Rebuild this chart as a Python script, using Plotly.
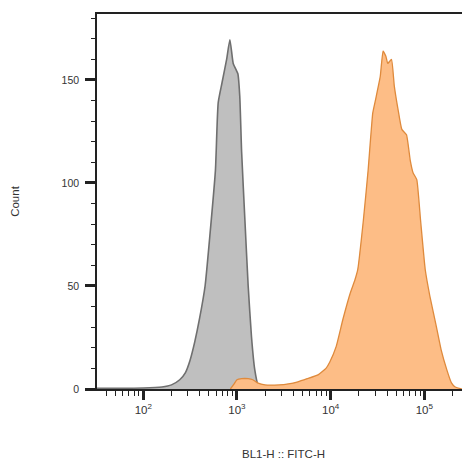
import plotly.graph_objects as go

# Fluorescence intensity (BL1-H :: FITC-H) and event counts
gray_intensity = [32, 100, 158, 200, 245, 282, 316, 355, 398, 457, 513, 589, 631, 692,
                  776, 841, 912, 977, 1023, 1072, 1122, 1216, 1318, 1429, 1549, 1679,
                  1862, 2512]
gray_count = [0.3, 0.5, 1, 2, 4.5, 8, 14, 23, 34, 50, 74, 106, 139, 148.5,
              160, 169.5, 158, 155, 153, 142, 115, 82, 50, 25.5, 9.4, 2,
              0.5, 0]

orange_intensity = [851, 933, 1000, 1122, 1318, 1479, 1660, 1995, 2818, 3548, 4467,
                    5623, 7413, 8913, 9772, 11482, 13490, 16218, 18197, 19498, 22387,
                    25119, 28184, 30200, 33884, 36308, 38905, 40738, 44668, 47863,
                    52481, 57544, 64565, 70795, 75858, 83176, 91201, 102329, 114815,
                    134896, 151356, 173780, 194984, 213796, 251189]
orange_count = [0, 2.5, 4.5, 5, 5, 4.5, 3, 2, 2, 2.5, 3.5,
                5, 7, 10, 13, 20.7, 33.6, 46.6, 53, 58, 82,
                106, 134, 140.5, 151.7, 164, 161.5, 158, 160, 147,
                135.6, 126, 123.4, 111, 105, 101.6, 82, 58, 45,
                30, 19, 9.4, 3, 1, 0]

major_ticks = [100, 1000, 10000, 100000]
major_labels = ["10<sup>2</sup>", "10<sup>3</sup>", "10<sup>4</sup>", "10<sup>5</sup>"]
minor_x_ticks = [40, 50, 60, 70, 80, 90,
                 200, 300, 400, 500, 600, 700, 800, 900,
                 2000, 3000, 4000, 5000, 6000, 7000, 8000, 9000,
                 20000, 30000, 40000, 50000, 60000, 70000, 80000, 90000,
                 200000, 300000]
y_ticks = [0, 50, 100, 150]

x_title = "BL1-H :: FITC-H"
y_title = "Count"

fig = go.Figure()
fig.add_trace(go.Scatter(
    x=gray_intensity, y=gray_count, mode="lines", fill="tozeroy",
    line=dict(color="#6f6f6f", width=1.6, shape="spline", smoothing=0.5),
    fillcolor="#bfbfbf", showlegend=False, hoverinfo="skip"))
fig.add_trace(go.Scatter(
    x=orange_intensity, y=orange_count, mode="lines", fill="tozeroy",
    line=dict(color="#df8a3c", width=1.3, shape="spline", smoothing=0.4),
    fillcolor="#fdbd86", showlegend=False, hoverinfo="skip"))

fam = "Liberation Sans, Arial, sans-serif"

fig.update_layout(
    width=462, height=452,
    margin=dict(l=89, r=0, t=6, b=71),
    paper_bgcolor="white", plot_bgcolor="white",
    font=dict(family=fam, size=11, color="#333333"),
    xaxis=dict(
        type="log", range=[1.506, 5.488],
        showline=True, linecolor="#222222", linewidth=1.5, mirror=True,
        showgrid=False, zeroline=False,
        tickmode="array", tickvals=major_ticks, ticktext=major_labels,
        ticks="outside", ticklen=9, tickwidth=2.5, tickcolor="#222222",
        tickfont=dict(family=fam, size=11.5, color="#333333"),
        minor=dict(tickmode="array", tickvals=minor_x_ticks, ticks="outside",
                   ticklen=5, tickwidth=1.2, tickcolor="#222222", showgrid=False),
        title=dict(text=x_title, font=dict(size=11.5, color="#333333"), standoff=36),
    ),
    yaxis=dict(
        range=[0, 182],
        showline=True, linecolor="#222222", linewidth=1.5,
        showgrid=False, zeroline=False,
        tickmode="array", tickvals=y_ticks,
        ticks="outside", ticklen=10, tickwidth=2.5, tickcolor="#222222",
        tickfont=dict(family=fam, size=10.5, color="#333333"), ticklabelstandoff=4,
        minor=dict(dtick=10, tick0=0, ticks="outside", ticklen=4, tickwidth=1.2,
                   tickcolor="#222222", showgrid=False),
        title=dict(text=y_title, font=dict(size=11.5, color="#333333"), standoff=40),
    ),
)

fig.write_html("out.html")
